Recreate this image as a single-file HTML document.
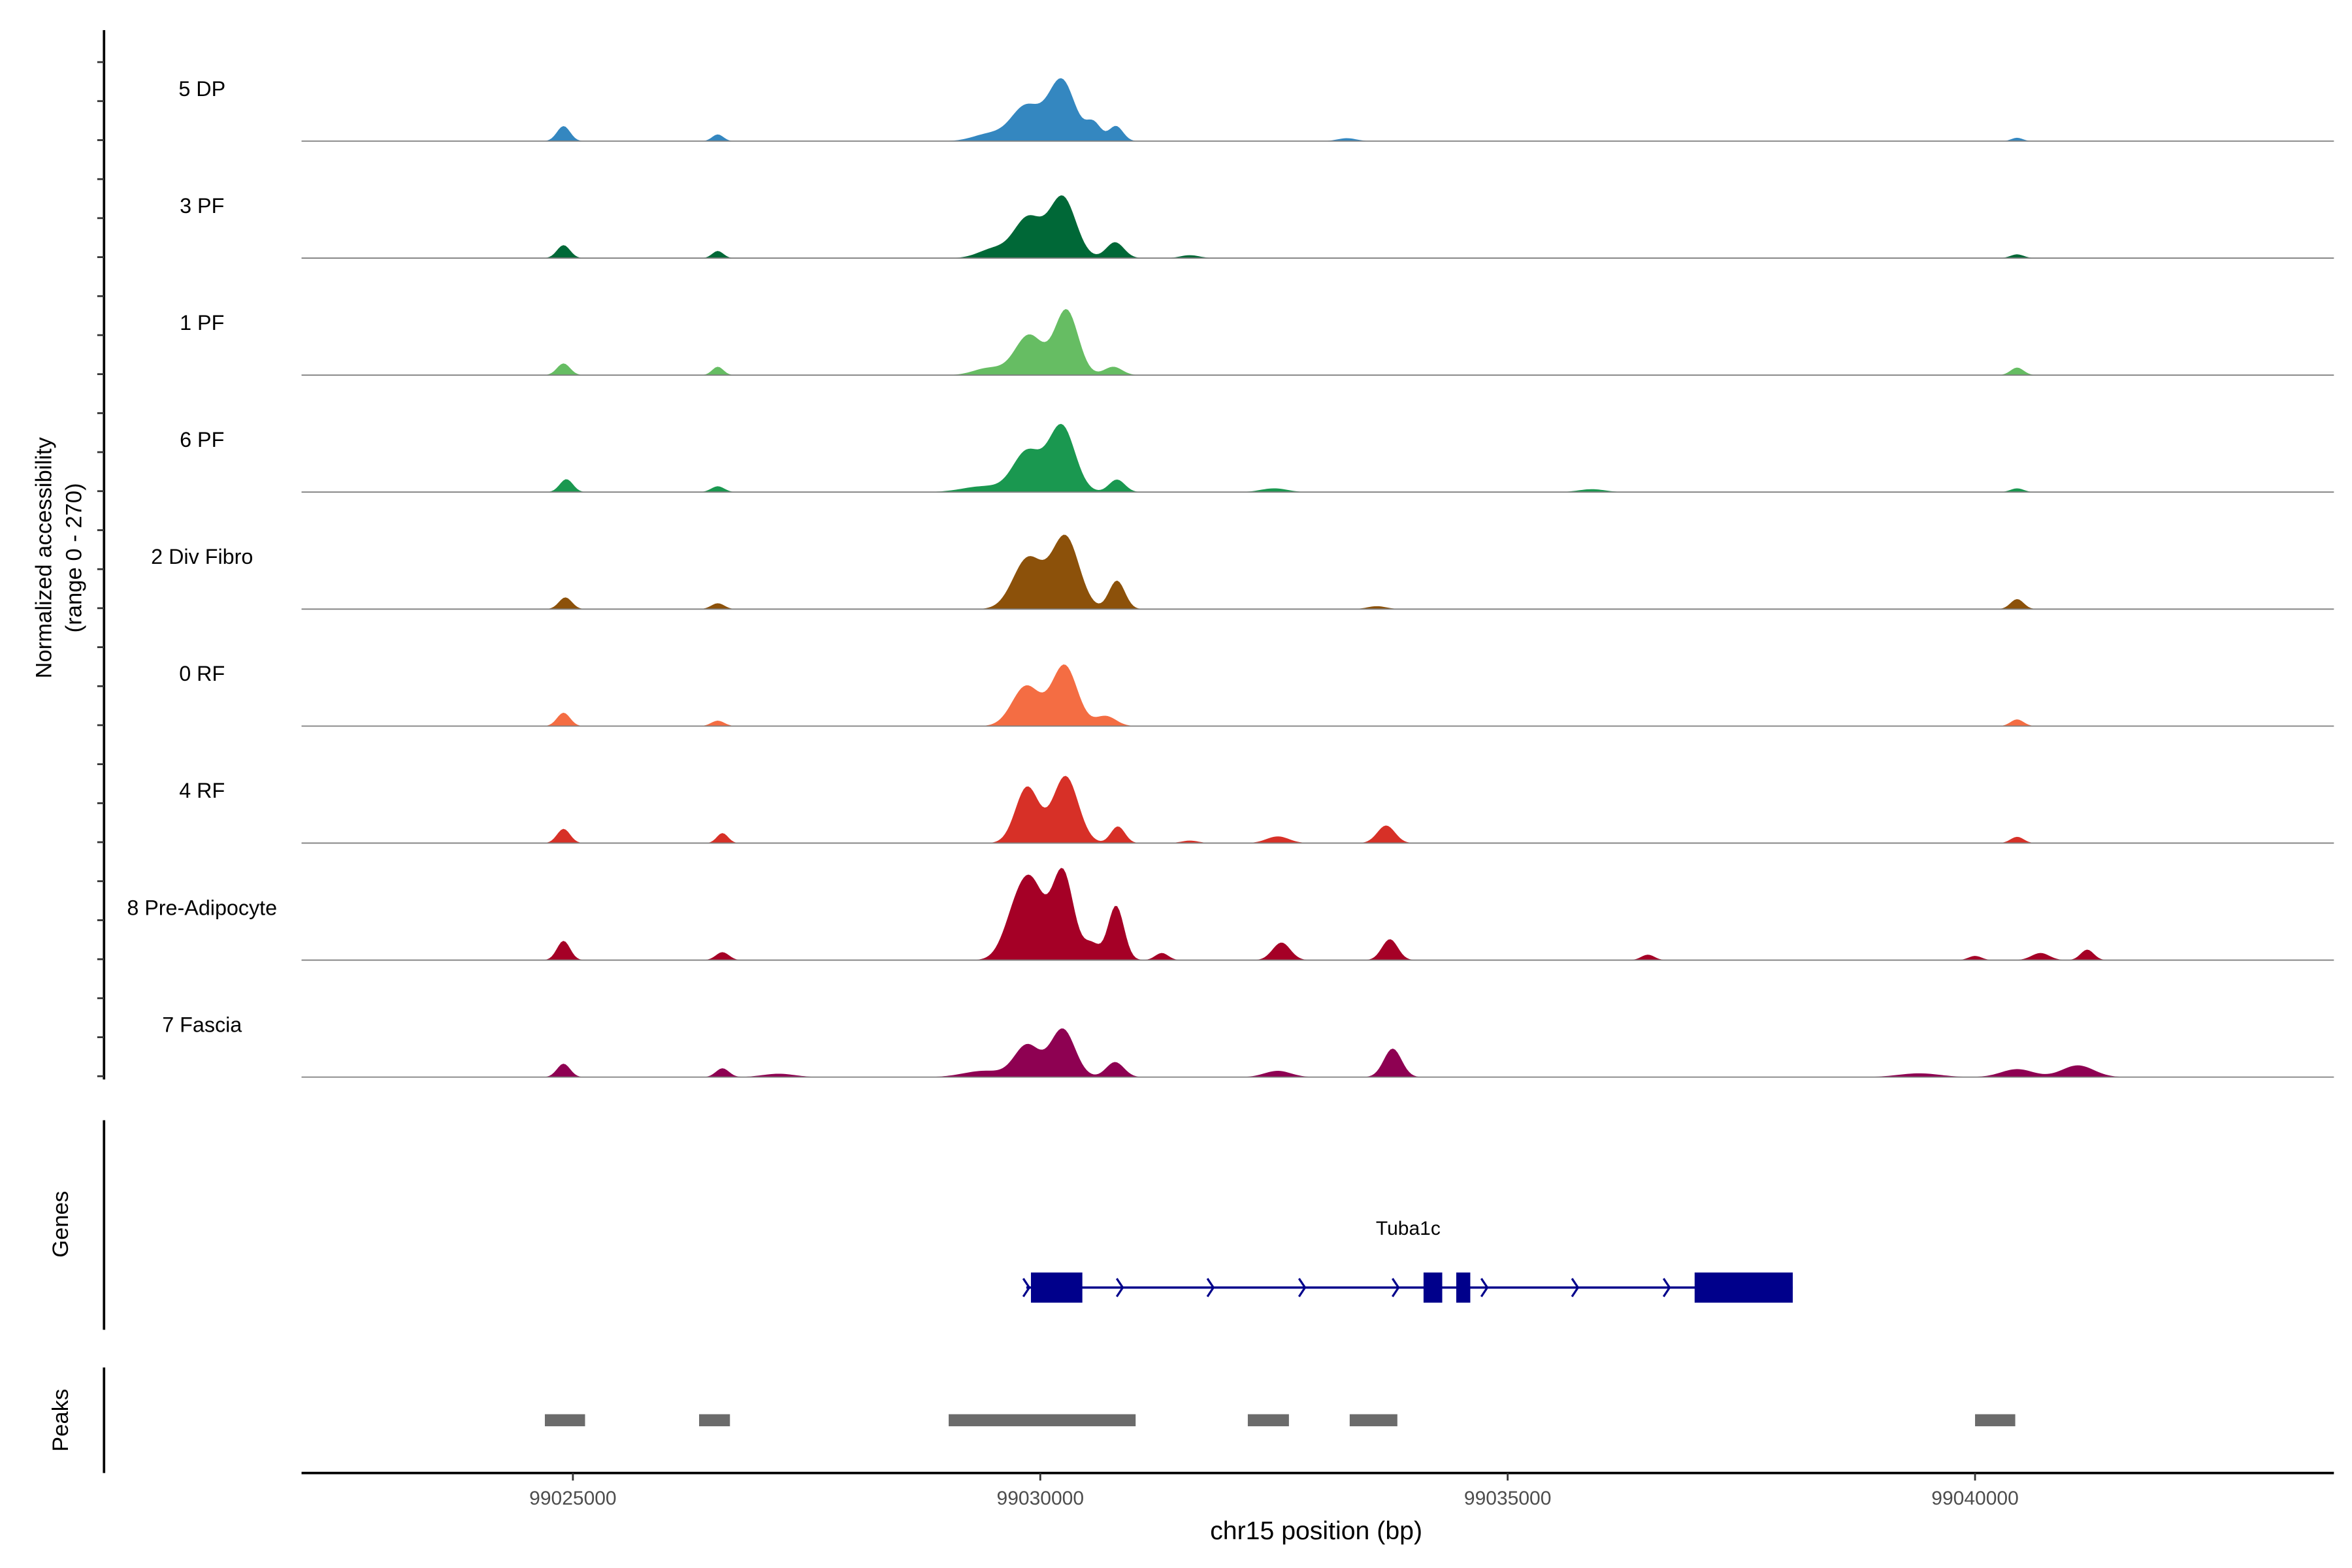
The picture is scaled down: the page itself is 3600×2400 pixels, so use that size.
<!DOCTYPE html>
<html><head><meta charset="utf-8"><style>
html,body{margin:0;padding:0;background:#fff;}
svg{display:block;font-family:"Liberation Sans",Arial,sans-serif;}
</style></head><body>
<svg id="chart" xmlns="http://www.w3.org/2000/svg" width="3600" height="2400" viewBox="0 0 1560 1040">
<rect width="1560" height="1040" fill="#fff"/>
<g id="tracks"></g>
<line x1="69" y1="20" x2="69" y2="716" stroke="#000" stroke-width="1.6"/>
<g id="yticks"></g>
<text transform="translate(34,370) rotate(-90)" text-anchor="middle" font-size="15" fill="#000">Normalized accessibility</text>
<text transform="translate(54,370) rotate(-90)" text-anchor="middle" font-size="15" fill="#000">(range 0 - 270)</text>
<line x1="69" y1="743" x2="69" y2="882" stroke="#000" stroke-width="1.6"/>
<text transform="translate(45,812) rotate(-90)" text-anchor="middle" font-size="15" fill="#000">Genes</text>
<g id="genes"></g>
<line x1="69" y1="907" x2="69" y2="977" stroke="#000" stroke-width="1.6"/>
<text transform="translate(45,942) rotate(-90)" text-anchor="middle" font-size="15" fill="#000">Peaks</text>
<g id="peaks"></g>
<line x1="200" y1="977" x2="1548" y2="977" stroke="#000" stroke-width="1.6"/>
<g id="xticks"></g>
<text x="873" y="1021" text-anchor="middle" font-size="17" fill="#000">chr15 position (bp)</text>
</svg>
<script>
const NS="http://www.w3.org/2000/svg";
const trackNames=["5 DP","3 PF","1 PF","6 PF","2 Div Fibro","0 RF","4 RF","8 Pre-Adipocyte","7 Fascia"];
const trackColors=["#3487c0","#006837","#66bd63","#1a9850","#8c510a","#f46d43","#d73027","#a50026","#8e0152"];
// peaks per track: [center bp, sd bp, height (0-270)]
const peaks5DP=[[99024900,70,36],[99026550,60,16],[99029450,170,17],[99029850,160,84],[99030230,140,145],[99030570,80,42],[99030810,75,36],[99033280,100,7],[99040450,60,8]];
const peaks3PF=[[99024900,70,31],[99026550,60,17],[99029500,160,22],[99029870,150,96],[99030240,140,145],[99030800,95,38],[99031600,100,7],[99040450,70,9]];
const peaks1PF=[[99024900,70,28],[99026550,60,20],[99029450,160,17],[99029880,150,96],[99030280,125,155],[99030780,95,20],[99040450,70,18]];
const peaks6PF=[[99024930,70,31],[99026550,70,14],[99029400,230,14],[99029860,150,96],[99030230,140,158],[99030820,85,30],[99032500,140,9],[99035900,140,7],[99040450,70,9]];
const peaks2DF=[[99024920,70,28],[99026550,70,14],[99029870,160,122],[99030270,145,172],[99030820,85,68],[99033600,100,7],[99040450,70,24]];
const peaks0RF=[[99024900,70,32],[99026550,70,13],[99029850,150,96],[99030260,135,145],[99030700,110,24],[99040450,70,16]];
const peaks4RF=[[99024900,70,34],[99026600,60,24],[99029860,125,134],[99030270,135,160],[99030830,75,40],[99031600,90,6],[99032540,120,16],[99033700,95,42],[99040450,70,15]];
const peaks8PA=[[99024900,70,46],[99026600,70,19],[99029760,140,125],[99029940,125,130],[99030240,115,212],[99030550,85,38],[99030810,85,130],[99031300,70,17],[99032580,95,42],[99033740,85,50],[99036500,70,13],[99040000,70,10],[99040700,95,17],[99041200,70,25]];
const peaks7Fa=[[99024900,70,32],[99026600,70,21],[99027200,170,8],[99029400,220,15],[99029860,135,76],[99030240,130,115],[99030800,95,36],[99032540,140,15],[99033770,95,68],[99039400,220,9],[99040450,170,19],[99041100,170,28]];
const trackPeaks=[peaks5DP,peaks3PF,peaks1PF,peaks6PF,peaks2DF,peaks0RF,peaks4RF,peaks8PA,peaks7Fa];
const geneExons=[[99029900,99030450],[99034100,99034300],[99034450,99034600],[99037000,99038050]];
const geneSpan=[99029850,99038050];
const geneArrowsBp=[99029850,99030850,99031820,99032800,99033800,99034750,99035720,99036700];
const peakRegions=[[99024700,99025130],[99026350,99026680],[99029020,99031020],[99032220,99032660],[99033310,99033820],[99040000,99040430]];
const xTicks=[99025000,99030000,99035000,99040000];
const X0=99022097,PX=310/5000;
function x(bp){return 200+(bp-X0)*PX;}
const TOP0=16,TH=77.6,HMAX=75,VMAX=270;
function base(i){return TOP0+TH*(i+1);}
function yv(i,v){return base(i)-Math.min(v,VMAX)/VMAX*HMAX;}
function mk(tag,attrs,parent){const e=document.createElementNS(NS,tag);for(const k in attrs)e.setAttribute(k,attrs[k]);parent.appendChild(e);return e;}
const tg=document.getElementById('tracks');
const BIN=25;
trackNames.forEach((nm,i)=>{
  const g=mk('g',{},tg);
  
  
  let d='M200,'+base(i);
  for(let bp=X0;bp<=99043839;bp+=BIN){
    let v=0;
    trackPeaks[i].forEach(p=>{const z=(bp-p[0])/p[1];v+=p[2]*Math.exp(-0.5*z*z);});
    d+='L'+x(bp).toFixed(2)+','+yv(i,v).toFixed(2);
  }
  d+='L1548,'+base(i)+'Z';
  const a=mk('path',{d:d,fill:trackColors[i]},g);
  
  
  const l=mk('line',{x1:200,x2:1548,y1:base(i),y2:base(i),stroke:'#7f7f7f','stroke-width':0.8},g);
  
  
  const t=mk('text',{x:134,y:base(i)-30,'text-anchor':'middle','font-size':14,fill:'#000'},g);
  t.textContent=nm;
  
  
});
const yt=document.getElementById('yticks');
for(let y=41.2;y<716;y+=25.87){
  const l=mk('line',{x1:64.5,x2:69,y1:y,y2:y,stroke:'#333','stroke-width':1.2},yt);
  
  
}
const gg=document.getElementById('genes');
const GY=854,blue='#00008b';
let ln=mk('line',{x1:x(geneSpan[0]),x2:x(geneSpan[1]),y1:GY,y2:GY,stroke:blue,'stroke-width':1.5},gg);


geneArrowsBp.forEach(bp=>{
  const ax=x(bp);
  const p=mk('path',{d:`M${ax-2},${GY-6}L${ax+2},${GY}L${ax-2},${GY+6}`,fill:'none',stroke:blue,'stroke-width':1.4},gg);
  
  
});
geneExons.forEach(e=>{
  const r=mk('rect',{x:x(e[0]),y:GY-10,width:x(e[1])-x(e[0]),height:20,fill:blue},gg);
  
  
});
let gl=mk('text',{x:934,y:819,'text-anchor':'middle','font-size':13,fill:'#000'},gg);
gl.textContent='Tuba1c';


const pg=document.getElementById('peaks');
peakRegions.forEach(p=>{
  const r=mk('rect',{x:x(p[0]),y:938,width:x(p[1])-x(p[0]),height:8,fill:'#6b6b6b'},pg);
  
  
});
const xt=document.getElementById('xticks');
xTicks.forEach(v=>{
  const l=mk('line',{x1:x(v),x2:x(v),y1:977,y2:982,stroke:'#333','stroke-width':1.2},xt);
  
  
  const t=mk('text',{x:x(v),y:998,'text-anchor':'middle','font-size':13,fill:'#4d4d4d'},xt);
  t.textContent=String(v);
  
  
});
</script>
</body></html>
